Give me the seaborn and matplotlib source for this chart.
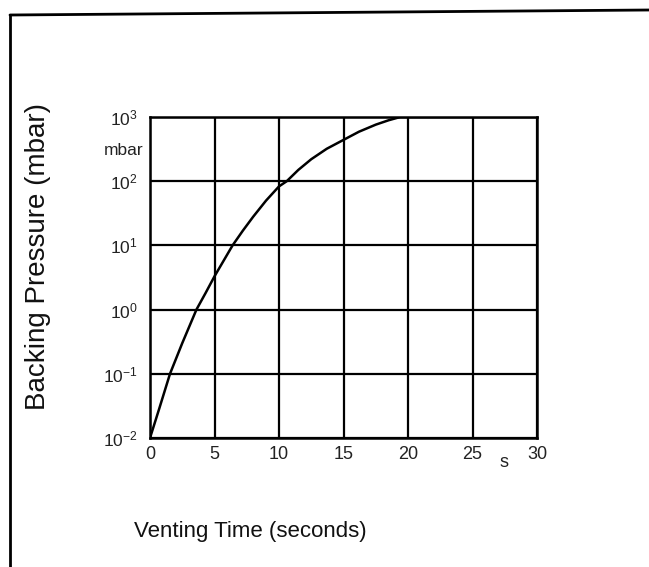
import numpy as np
import pandas as pd
import seaborn as sns
import matplotlib.pyplot as plt
from matplotlib.lines import Line2D

# data
venting_time = [0, 0.7, 1.55, 2.5, 3.6, 4.3, 5, 6.4, 7.2, 8, 9, 10, 10.6, 11.5,
                12.5, 13.7, 15, 16.2, 17.5, 18.5, 19.4, 22, 25, 30]
backing_pressure = [0.01, 0.028, 0.1, 0.3, 1, 1.8, 3.3, 10, 17, 28, 50, 83, 100, 150,
                    220, 320, 440, 590, 760, 890, 1000, 1000, 1000, 1000]

x_ticks = [0, 5, 10, 15, 20, 25, 30]
y_ticks = [1e-2, 1e-1, 1e0, 1e1, 1e2, 1e3]
y_tick_labels = ["$10^{-2}$", "$10^{-1}$", "$10^{0}$", "$10^{1}$", "$10^{2}$", "$10^{3}$"]

df = pd.DataFrame({"t": venting_time, "p": backing_pressure})

sns.set_theme(style="white")
plt.rcParams["font.family"] = ["Liberation Sans", "DejaVu Sans"]
plt.rcParams["mathtext.fontset"] = "custom"
plt.rcParams["mathtext.rm"] = "Liberation Sans"
plt.rcParams["mathtext.it"] = "Liberation Sans:italic"

fig = plt.figure(figsize=(6.49, 5.67), dpi=100)
ax = fig.add_axes([150 / 649, 1 - 438 / 567, 387 / 649, 321 / 567])

sns.lineplot(data=df, x="t", y="p", ax=ax, color="black", linewidth=1.8)

ax.set_yscale("log")
ax.set_xlim(0, 30)
ax.set_ylim(1e-2, 1e3)
ax.set_xticks(x_ticks)
ax.set_xticklabels([str(v) for v in x_ticks])
ax.set_yticks(y_ticks)
ax.set_yticklabels(y_tick_labels)
ax.minorticks_off()
ax.tick_params(length=0, colors="#222222")
ax.tick_params(axis="x", labelsize=13, pad=6)
ax.tick_params(axis="y", labelsize=12.5, pad=9)
ax.grid(True, color="black", linewidth=1.6)
for s in ax.spines.values():
    s.set_color("black")
    s.set_linewidth(1.8)
ax.set_xlabel("")
ax.set_ylabel("")

# unit labels
ax.text(-0.018, 0.895, "mbar", transform=ax.transAxes, ha="right", va="center",
        fontsize=12.5, color="#222222")
ax.text(0.915, -0.075, "s", transform=ax.transAxes, ha="center", va="center",
        fontsize=13, color="#222222")

# axis titles
fig.text(250 / 649, 1 - 531 / 567, "Venting Time (seconds)", ha="center", va="center",
         fontsize=16, color="#111111")
fig.text(38 / 649, 1 - 256 / 567, "Backing Pressure (mbar)", ha="center", va="center",
         rotation=90, fontsize=20, color="#111111")

# frame around the figure
fig.add_artist(Line2D([10 / 649, 10 / 649], [0, 1 - 15 / 567],
                      transform=fig.transFigure, color="black", linewidth=2))
fig.add_artist(Line2D([10 / 649, 1.0], [1 - 15 / 567, 1 - 10 / 567],
                      transform=fig.transFigure, color="black", linewidth=2))

fig.savefig("out.png", dpi=100)
